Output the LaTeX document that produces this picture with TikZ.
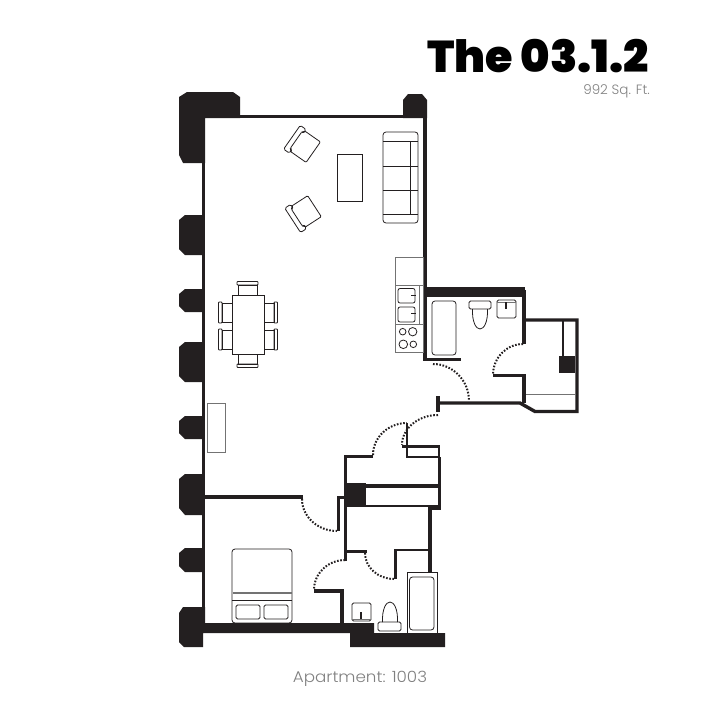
\documentclass[tikz,border=0pt]{standalone}
\usepackage{fontspec}
\usepackage{tikz}
\usetikzlibrary{positioning}
\newfontfamily\titlefont{Poppins Black}
\newfontfamily\labelfont{Poppins Light}
\definecolor{wallblack}{HTML}{231F20}
\definecolor{labelgrey}{HTML}{808080}
\tikzset{
  armchair/.pic={
    \draw[furn,rounded corners=1.5] (-14.5,-6.5) -- (-14.5,-13.5) -- (14.5,-13.5) -- (14.5,-6.5) -- (10.5,-6.5) -- (10.5,-8.5) -- (-10.5,-8.5) -- (-10.5,-6.5) -- cycle;
    \draw[furn,rounded corners=1] (-10.5,-6.5) -- (-12.5,-6.5) -- (-12.5,12.5) -- (12.5,12.5) -- (12.5,-6.5) -- (10.5,-6.5);
  },
  dinechair/.pic={
    \draw[furn] (-9.5,0) -- (-9.5,-10) -- (9.5,-10) -- (9.5,0);
    \draw[furn,rounded corners=0.8] (-10.5,-10) rectangle (10.5,-13.5);
  }
}

\begin{document}
\begin{tikzpicture}[
    x=1pt, y=-1pt,
    wall/.style={draw=wallblack, line width=3.4pt, line join=miter},
    thinwall/.style={draw=wallblack, line width=2.4pt, line join=miter},
    solid/.style={fill=wallblack, draw=none},
    furn/.style={draw=wallblack, line width=0.8pt},
    greyline/.style={draw=black!55, line width=1pt},
    swing/.style={draw=wallblack, line width=2pt, dash pattern=on 1.6pt off 1.6pt}
  ]
  \useasboundingbox (0,0) rectangle (720,720);

  % Title
  \node[anchor=base east, inner sep=0pt, text depth=0pt, font=\titlefont\fontsize{44.5}{44.5}\selectfont] (title) at (649,72) {The 03.1.2};
  \node[anchor=base east, inner sep=0pt, text=labelgrey, font=\labelfont\fontsize{13.5}{13.5}\selectfont] (area) at (650,94) {992 Sq. Ft.};
  \node[anchor=base, inner sep=0pt, text=labelgrey, xscale=1.08, font=\labelfont\fontsize{15.5}{15.5}\selectfont] (unit) at (360,682) {Apartment: 1003};

  % Window piers
  \fill[solid] (179,97) -- (187,92) -- (233,92) -- (240,97) -- (240,118) -- (205,118) -- (205,163) -- (183,163) -- (179,155) -- cycle;
  \fill[solid] (403,118) -- (403,100) -- (408,94) -- (422,94) -- (427,100) -- (427,118) -- cycle;
  \foreach \ya/\yb in {215/255, 289/312, 342/382, 416/439, 548/572} {
    \fill[solid] (204,\ya) -- (185,\ya) -- (179,\ya+5) -- (179,\yb-6) -- (185,\yb) -- (204,\yb) -- cycle;
  }
  \fill[solid] (204,474) -- (185,474) -- (179,479) -- (179,508) -- (185,515) -- (204,515) -- cycle;

  % Bottom wall with last pier
  \fill[solid] (205,607) -- (183,607) -- (179,613) -- (179,642) -- (184,647) -- (203,647) -- (203,633) -- (350,633) -- (350,647) -- (445,647) -- (445,633) -- (374,633) -- (374,623) -- (205,623) -- cycle;

  % Outer walls of the living room
  \draw[wall] (203.5,118) -- (203.5,630);
  \draw[wall] (240,116.5) -- (405,116.5);
  \draw[wall] (425,100) -- (425,359.5) -- (461,359.5);
  \draw[wall] (205,497) -- (303,497);

  % Bathroom 1
  \fill[solid] (423,287) rectangle (525,297);
  \draw[wall] (524,290) -- (524,344);
  \draw[wall] (493,375.5) -- (524,375.5) -- (524,403);
  \draw[wall] (524,320) -- (577,320) -- (577,411.5) -- (535,411.5) -- (520,403) -- (440,403);
  \draw[wall] (438,396) -- (438,412);
  \draw[thinwall] (563,320) -- (563,357);
  \fill[solid] (559,356) rectangle (575,373);
  \draw[greyline] (526,394) -- (575,394);

  % Entry and closets
  \draw[wall] (373,456.5) -- (345.5,456.5) -- (345.5,561);
  \draw[thinwall] (407,423) -- (407,457) -- (439,457);
  \draw[thinwall] (402,446.5) -- (439,446.5) -- (439,458);
  \draw[wall] (439.5,457) -- (439.5,508.5) -- (430,508.5) -- (430,572);
  \fill[solid] (347,483) rectangle (366,507);
  \draw[wall] (366,486) -- (438,486);
  \draw[thinwall] (347,506) -- (438,506);
  \draw[thinwall] (345,497.5) -- (338.5,497.5) -- (338.5,531);
  \draw[thinwall] (347,551.5) -- (367,551.5);
  \draw[thinwall] (430,550) -- (395.5,550) -- (395.5,579);
  \draw[wall] (314,591) -- (342,591) -- (342,623);

  % Doors
  \draw[swing] (302,499) arc[start angle=180, end angle=90, x radius=35, y radius=32];
  \draw[swing] (373,455) arc[start angle=180, end angle=270, x radius=34, y radius=32];
  \draw[swing] (438,415) arc[start angle=270, end angle=180, x radius=36, y radius=30];
  \draw[swing] (345,560) arc[start angle=270, end angle=180, x radius=31, y radius=30];
  \draw[swing] (365,553) arc[start angle=180, end angle=90, x radius=29, y radius=26];
  \draw[swing] (523,344) arc[start angle=270, end angle=180, x radius=30, y radius=31];
  \draw[swing] (433,364) arc[start angle=-90, end angle=0, x radius=36, y radius=37];

  % Living room
  \pic at (303,145) [rotate=55] {armchair};
  \pic at (304,213) [rotate=123] {armchair};
  \draw[furn] (337,154) rectangle (362.5,201);
  \draw[furn,rounded corners=3] (383,132) rectangle (418,223);
  \draw[furn] (383,141.5) -- (418,141.5);
  \draw[furn] (383,166) -- (418,166);
  \draw[furn] (383,190.5) -- (418,190.5);
  \draw[furn] (383,214.5) -- (418,214.5);
  \draw[furn] (410,141.5) -- (410,214.5);

  % Dining table
  \draw[furn,fill=white] (232,295) rectangle (264,354);
  \pic at (247.5,295) {dinechair};
  \pic at (247.5,354) [rotate=180] {dinechair};
  \pic at (232,312.5) [rotate=90] {dinechair};
  \pic at (232,339.5) [rotate=90] {dinechair};
  \pic at (264,312.5) [rotate=-90] {dinechair};
  \pic at (264,339.5) [rotate=-90] {dinechair};
  \draw[greyline] (207,403) rectangle (225.5,452.5);

  % Kitchen
  \draw[greyline] (395.5,257) rectangle (423,352.5);
  \draw[greyline] (395.5,285.5) -- (423,285.5);
  \draw[greyline] (395.5,324) -- (423,324);
  \draw[greyline] (419,285.5) -- (419,324);
  \draw[furn,rounded corners=2] (398,288.5) rectangle (415,303);
  \draw[furn,rounded corners=2] (398,307) rectangle (415,322);
  \draw[furn] (411,295) -- (416,295);
  \draw[furn] (411,313) -- (416,313);
  \draw[furn] (402.7,331.7) circle[radius=3.3];
  \draw[furn] (412.7,331.7) circle[radius=4.2];
  \draw[furn] (403.3,344.3) circle[radius=4.3];
  \draw[furn] (413.3,344.3) circle[radius=3.3];

  % Bathroom 1 fixtures
  \draw[furn,rounded corners=3] (432,301) rectangle (456,355);
  \draw[furn,rounded corners=1.5] (469,301) rectangle (491,309);
  \draw[furn] (472.5,309) .. controls (472,322) and (476,329) .. (480,329) .. controls (484,329) and (488,322) .. (487.5,309);
  \draw[furn,rounded corners=1.5] (497,300) rectangle (516,318);
  \draw[greyline] (497,302.5) -- (516,302.5);
  \draw[wall,line width=1.8pt] (506,302) -- (506,308.5);

  % Bedroom
  \draw[furn,rounded corners=3] (232,549) rectangle (292,623);
  \fill[black!55] (232.5,592) rectangle (291.5,593.5);
  \draw[furn] (232,600) -- (292,600);
  \draw[furn,rounded corners=1.5] (236,605) rectangle (260,619);
  \draw[furn,rounded corners=1.5] (264,605) rectangle (288,619);

  % Bathroom 2 fixtures
  \draw[furn,rounded corners=1.5] (352,603) rectangle (371,621);
  \draw[greyline] (352,619) -- (371,619);
  \draw[wall,line width=1.8pt] (361,612) -- (361,618.5);
  \draw[furn] (382.5,622) .. controls (382,609) and (386,602) .. (390,602) .. controls (394,602) and (398,609) .. (397.5,622);
  \draw[furn,rounded corners=1.5] (378,622) rectangle (401,631);
  \draw[furn] (407,633) -- (407,572) -- (437,572) -- (437,633);
  \draw[furn,rounded corners=3] (409.5,577) rectangle (434,630);

\end{tikzpicture}
\end{document}
